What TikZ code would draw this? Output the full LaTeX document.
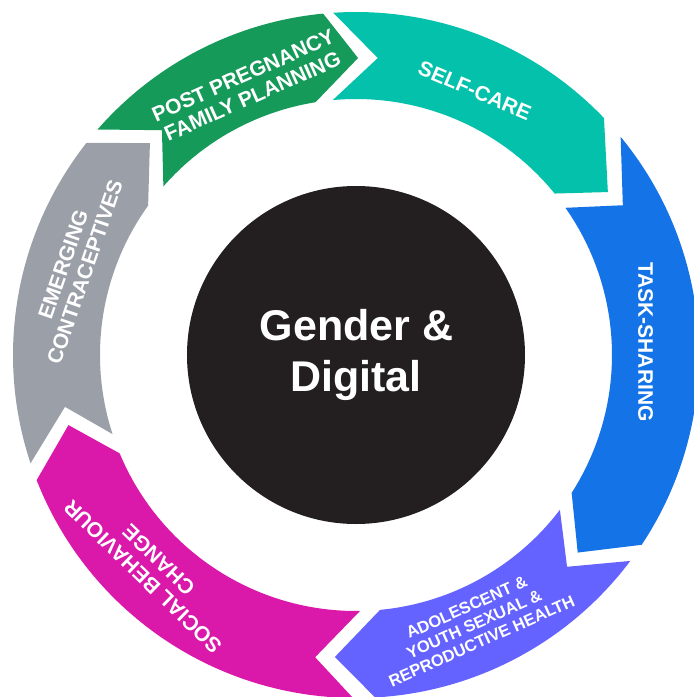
\documentclass[tikz,border=0pt]{standalone}
\usepackage{fontspec}
\setmainfont{Liberation Sans}
\definecolor{cgray}{HTML}{9A9FA8}
\definecolor{cgreen}{HTML}{169A5A}
\definecolor{cteal}{HTML}{03C1AA}
\definecolor{cblue}{HTML}{1473E6}
\definecolor{cpurple}{HTML}{6563FF}
\definecolor{cmagenta}{HTML}{DA18AA}
\definecolor{cdark}{HTML}{231F20}
\begin{document}
\begin{tikzpicture}[
  lbl/.style={text=white, font=\bfseries\fontsize{21}{23}\selectfont, align=center, inner sep=0pt},
  lblsmall/.style={text=white, font=\bfseries\fontsize{16.5}{18.5}\selectfont, align=center, inner sep=0pt},
  ctr/.style={text=white, font=\bfseries\fontsize{43}{51}\selectfont, inner sep=0pt, anchor=base},
]
\useasboundingbox (-356pt,-342pt) rectangle (338pt,355pt);
\clip (-356pt,-342pt) rectangle (338pt,355pt);

% EMERGING CONTRACEPTIVES (gray)
\fill[cgray] (198.4:343pt) arc[start angle=198.4, end angle=141.8, radius=343pt]
  -- (134.2:295.6pt) -- (144.3:256pt)
  arc[start angle=144.3, end angle=198.0, radius=256pt]
  -- (190.1:295.6pt) -- cycle;

% POST PREGNANCY FAMILY PLANNING (green)
\fill[cgreen] (138.9:343pt) arc[start angle=138.9, end angle=95.5, radius=343pt]
  -- (89.6:297pt) -- (99.1:256pt)
  arc[start angle=99.1, end angle=138.8, radius=256pt]
  -- (130.8:297pt) -- cycle;

% SELF-CARE (teal)
\fill[cteal] (93.8:343pt) arc[start angle=93.8, end angle=43.7, radius=343pt]
  -- (32.9:300pt) -- (39.1:256pt)
  arc[start angle=39.1, end angle=95.2, radius=256pt]
  -- (85.8:297.8pt) -- cycle;

% TASK-SHARING (blue)
\fill[cblue] (39.5:343pt) arc[start angle=39.5, end angle=-33.6, radius=343pt]
  -- (-41.7:297pt) -- (-32.6:256pt)
  arc[start angle=-32.6, end angle=35.1, radius=256pt]
  -- (29.3:306pt) -- cycle;

% ADOLESCENT (purple)
\fill[cpurple] (-36.9:343pt) arc[start angle=-36.9, end angle=-86.8, radius=343pt]
  -- (-94.0:302.7pt) -- (-84.6:256pt)
  arc[start angle=-84.6, end angle=-37.2, radius=256pt]
  -- (-45.1:299pt) -- cycle;

% SOCIAL BEHAVIOUR CHANGE (magenta)
\fill[cmagenta] (269.5:343pt) arc[start angle=269.5, end angle=201.4, radius=343pt]
  -- (193.7:296pt) -- (202.6:256pt)
  arc[start angle=202.6, end angle=270.9, radius=256pt]
  -- (262.3:305pt) -- cycle;

% centre
\fill[cdark] (0pt,0pt) circle[radius=169pt];
\node[ctr] (g1) at (0.5pt,15pt) {Gender \&};
\node[ctr] (g2) at (0pt,-36pt) {Digital};

% labels
\node[lbl, rotate=71] (lgray) at (162.9:295pt) {EMERGING\\CONTRACEPTIVES};
\node[lbl, rotate=24] (lgreen) at (111.9:290pt) {POST PREGNANCY\\FAMILY PLANNING};
\node[lbl, rotate=-23] (lteal) at (65.8:290pt) {SELF-CARE};
\node[lbl, rotate=-90] (lblue) at (2.6:290pt) {TASK-SHARING};
\node[lblsmall, rotate=24] (lpurple) at (-66.3:294pt) {ADOLESCENT \&\\YOUTH SEXUAL \&\\REPRODUCTIVE HEALTH};
\node[lbl, rotate=136] (lmag) at (226.1:296pt) {SOCIAL BEHAVIOUR\\CHANGE};
\end{tikzpicture}
\end{document}
